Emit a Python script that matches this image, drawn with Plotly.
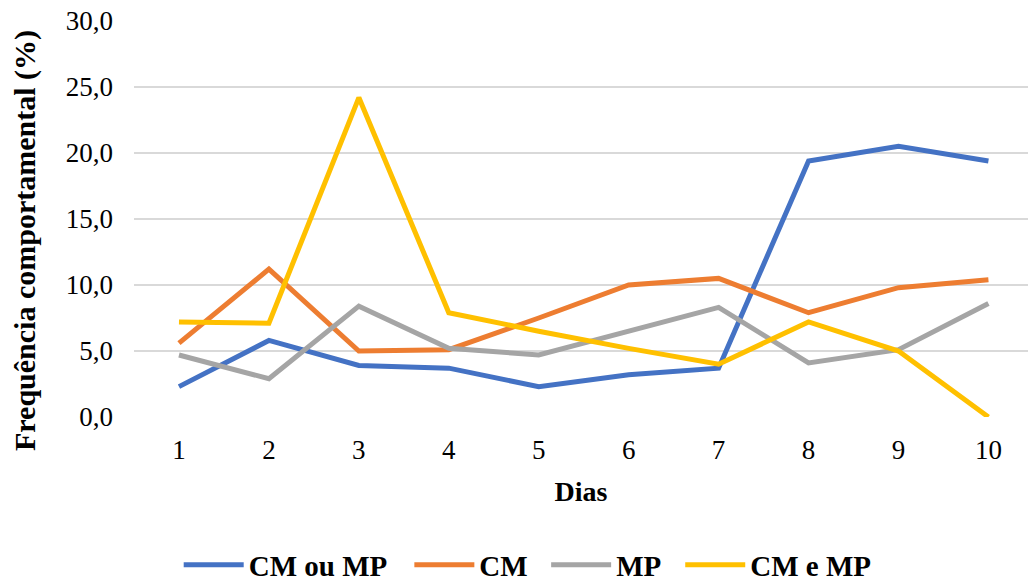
import plotly.graph_objects as go

dias = [1, 2, 3, 4, 5, 6, 7, 8, 9, 10]
cm_ou_mp = [2.3, 5.8, 3.9, 3.7, 2.3, 3.2, 3.7, 19.4, 20.5, 19.4]
cm = [5.6, 11.2, 5.0, 5.1, 7.5, 10.0, 10.5, 7.9, 9.8, 10.4]
mp = [4.7, 2.9, 8.4, 5.2, 4.7, 6.5, 8.3, 4.1, 5.1, 8.6]
cm_e_mp = [7.2, 7.1, 24.2, 7.9, 6.5, 5.2, 4.0, 7.2, 5.0, 0.0]

series = [
    ("CM ou MP", cm_ou_mp, "#4472C4"),
    ("CM", cm, "#ED7D31"),
    ("MP", mp, "#A5A5A5"),
    ("CM e MP", cm_e_mp, "#FFC000"),
]

# left edge of each legend entry, in paper fraction of the plot width
legend_x = [0.050, 0.308, 0.461, 0.611]

font_family = "Liberation Serif"
plot_left, plot_bottom, plot_top, fig_w, fig_h = 134, 417, 21, 1028, 581
plot_h = plot_bottom - plot_top
plot_w = fig_w - plot_left
legend_y = (plot_bottom - 565) / plot_h

fig = go.Figure()
legend_layouts = {}
for i, (name, values, color) in enumerate(series):
    key = "legend" if i == 0 else f"legend{i + 1}"
    fig.add_trace(go.Scatter(
        x=dias, y=values, name=name, mode="lines",
        line=dict(color=color, width=5),
        legend=key,
    ))
    legend_layouts[key] = dict(
        orientation="h", x=legend_x[i], xanchor="left",
        y=legend_y, yanchor="middle",
        font=dict(family=font_family, size=29, color="#000000", weight="bold"),
        itemwidth=60, bgcolor="rgba(0,0,0,0)",
    )

fig.update_layout(
    width=fig_w, height=fig_h,
    margin=dict(l=plot_left, r=0, t=plot_top, b=fig_h - plot_bottom, autoexpand=False),
    plot_bgcolor="white", paper_bgcolor="white",
    separators=",.",
    font=dict(family=font_family, size=27, color="#000000"),
    showlegend=True,
    xaxis=dict(
        range=[0.5, 10.44],
        tickmode="array", tickvals=dias, ticktext=[str(d) for d in dias],
        showgrid=False, zeroline=False, showline=False, ticks="",
        ticklabelstandoff=14, automargin=False,
        tickfont=dict(size=27),
        title=dict(text="<b>Dias</b>", font=dict(size=28), standoff=17),
    ),
    yaxis=dict(
        range=[0, 30], tickvals=[0, 5, 10, 15, 20, 25, 30], tickformat=".1f",
        showgrid=True, gridcolor="#D9D9D9", gridwidth=1.5,
        zeroline=False, showline=False, ticks="",
        ticklabelstandoff=20, automargin=False,
        tickfont=dict(size=27),
    ),
    annotations=[dict(
        text="<b>Frequência comportamental (%)</b>",
        xref="paper", yref="paper",
        x=(25 - plot_left) / plot_w, y=(plot_bottom - 241) / plot_h,
        xanchor="center", yanchor="middle", textangle=-90, showarrow=False,
        font=dict(family=font_family, size=30, color="#000000"),
    )],
    **legend_layouts,
)

fig.write_html("out.html")
